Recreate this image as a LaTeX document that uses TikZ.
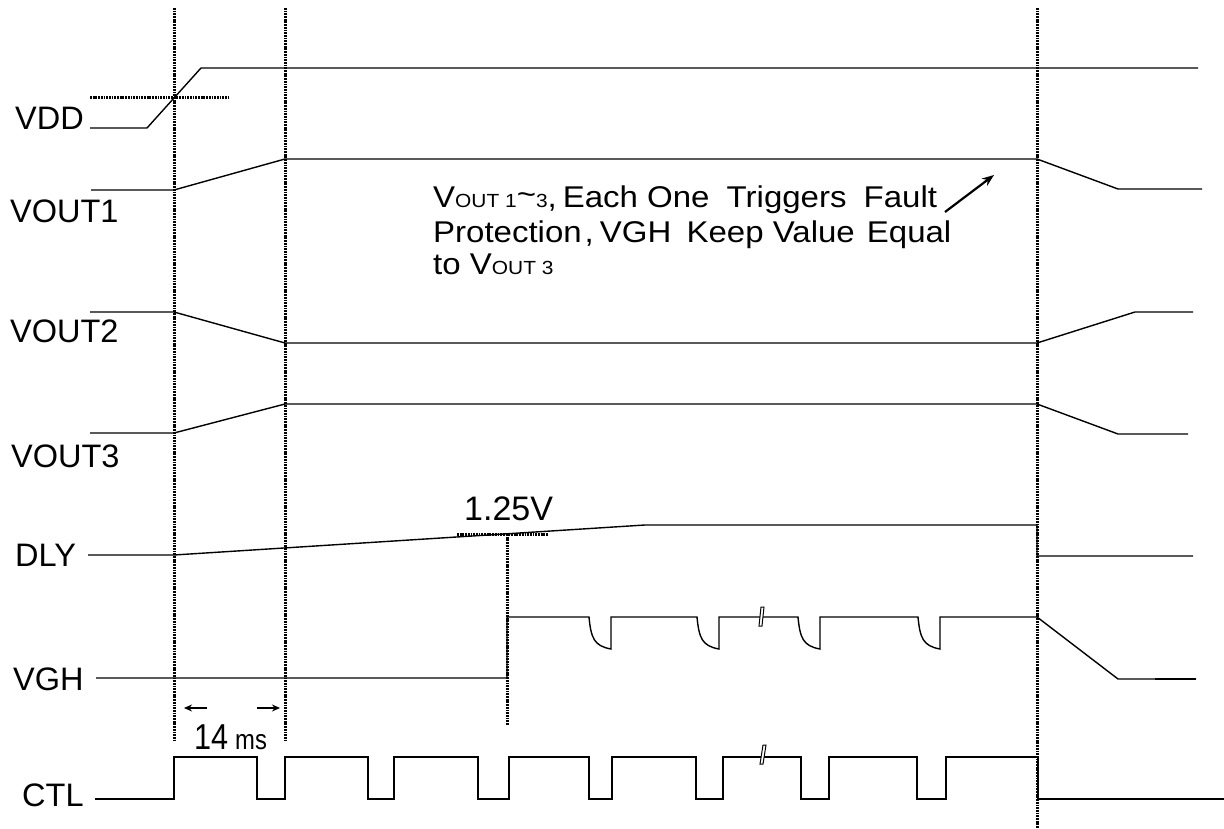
\documentclass[tikz,border=0pt]{standalone}
\usepackage{fontspec}
\setmainfont{Liberation Sans}
\newfontfamily\annfont[FakeStretch=1.1]{Liberation Sans}
\newfontfamily\condfont[FakeStretch=0.85]{Liberation Sans}
\usetikzlibrary{arrows.meta}
\newcommand{\subsm}[1]{{\fontsize{19}{22}\selectfont #1}}
\begin{document}
\begin{tikzpicture}[x=1pt,y=-1pt,
  sig/.style={line width=1.4pt, line join=miter},
  dotline/.style={line width=3pt, dash pattern=on 1.8pt off 0.9pt},
  lbl/.style={anchor=base west, inner sep=0pt, font=\fontsize{32.5}{36}\selectfont},
  ann/.style={anchor=base west, inner sep=0pt, font=\annfont\fontsize{30}{33}\selectfont},
  brk/.style={line width=1pt, fill=white},
  smallarrow/.style={line width=1.6pt, -{Stealth[length=8pt,width=7pt]}}]
\useasboundingbox (0,0) rectangle (1224,829);

% labels
\node[lbl] (lvdd) at (15,130) {VDD};
\node[lbl] (lv1) at (10,223) {VOUT1};
\node[lbl] (lv2) at (10,342) {VOUT2};
\node[lbl] (lv3) at (11,467) {VOUT3};
\node[lbl] (ldly) at (15,566) {DLY};
\node[lbl] (lvgh) at (13,690) {VGH};
\node[lbl] (lctl) at (22,806) {CTL};

% dotted reference lines
\draw[dotline] (174,8) -- (174,740);
\draw[dotline] (285,8) -- (285,740);
\draw[dotline] (1037,8) -- (1037,829);
\draw[dotline] (507,534) -- (507,725);
\draw[dotline] (90,98) -- (229,98);
\draw[dotline] (457,534) -- (548,534);

% signals
\draw[sig] (90,128) -- (147,128) -- (201,68) -- (1198,68);
\draw[sig] (91,190) -- (174,190) -- (285,159) -- (1037,159) -- (1118,189) -- (1202,189);
\draw[sig] (90,312) -- (174,312) -- (285,343) -- (1037,343) -- (1135,312) -- (1193,312);
\draw[sig] (90,433) -- (174,433) -- (285,404) -- (1037,404) -- (1118,434) -- (1188,434);
\draw[sig] (88,555) -- (174,555) -- (645,525) -- (1037,525) -- (1037,556) -- (1193,556);
\draw[sig] (96,678) -- (507,678) -- (507,617)
  \foreach \p in {589,697,798,918}{ -- (\p,617) .. controls (\p+2,638) and (\p+5,646) .. (\p+22,649) -- (\p+22,617) }
  -- (1037,617) -- (1118,679) -- (1196,679);
\draw[line width=2.2pt] (1155,679) -- (1196,679);
\draw[sig] (95,799) -- (174,799) -- (174,757)
  \foreach \a/\b in {257/285,368/394,478/509,589/612,696/723,801/829,917/946}{ -- (\a,757) -- (\a,799) -- (\b,799) -- (\b,757) }
  -- (1038,757) -- (1038,799) -- (1224,799);

% break marks
\draw[brk] (759,626) -- (761,607) -- (764,607) -- (762,626) -- cycle;
\draw[brk] (760,764) -- (763,745) -- (766,745) -- (763,764) -- cycle;

% 1.25V
\node[anchor=base west, inner sep=0pt, font=\fontsize{34}{38}\selectfont] (l125) at (464,520) {1.25V};

% 14 ms
\coordinate (a1s) at (207,708); \coordinate (a1e) at (184,708);
\coordinate (a2s) at (257,708); \coordinate (a2e) at (280,708);
\draw[smallarrow] (a1s) -- (a1e);
\draw[smallarrow] (a2s) -- (a2e);
\node[anchor=base west, inner sep=0pt, font=\condfont\fontsize{36}{38}\selectfont] (l14) at (194,749) {14};
\node[anchor=base west, inner sep=0pt, font=\condfont\fontsize{28}{30}\selectfont] (lms) at (235,749) {ms};

% annotation
\node[ann] (t1) at (433,208) {V\subsm{OUT 1}\raisebox{3pt}{{\fontsize{30}{30}\selectfont\textasciitilde}}\subsm{3},\hspace{6pt}Each One\hspace{8pt} Triggers\hspace{8pt} Fault};
\node[ann] (t2) at (433,243) {Protection\hspace{3pt},\hspace{6pt}VGH\hspace{6pt} Keep Value\hspace{3pt} Equal};
\node[ann] (t3) at (433,274) {to V\subsm{OUT 3}};
\coordinate (arS) at (945,212); \coordinate (arE) at (994,175);
\draw[line width=2.2pt, -{Stealth[length=12pt,width=9pt]}] (arS) -- (arE);
\end{tikzpicture}
\end{document}
